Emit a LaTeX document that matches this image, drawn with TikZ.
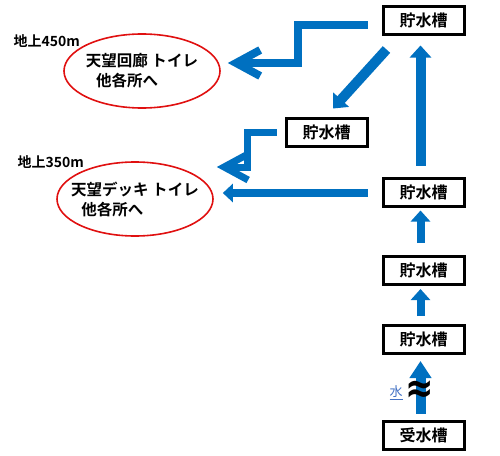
\documentclass[tikz,border=0pt]{standalone}
\usepackage{fontspec}
\setmainfont{Noto Sans CJK JP}[BoldFont={Noto Sans CJK JP Bold}]
\newfontfamily\waveface{DejaVu Sans}
\usetikzlibrary{arrows.meta,shapes.geometric,positioning,calc}
\definecolor{ink}{HTML}{000000}
\definecolor{water}{HTML}{0070C0}
\definecolor{rim}{HTML}{E01010}
\definecolor{note}{HTML}{4472C4}
\newcommand{\TankW}{81pt}
\newcommand{\TankH}{28pt}

\begin{document}
\begin{tikzpicture}[x=1pt, y=-1pt, ink,
  tank/.style={draw=ink, line width=3pt, minimum width=\TankW, minimum height=\TankH, inner sep=0pt, font=\fontsize{16}{18}\selectfont\bfseries},
  deck/.style={ellipse, draw=rim, line width=1.6pt, minimum width=156pt, minimum height=74pt, inner xsep=-30pt, inner ysep=-12pt, align=left, font=\fontsize{15.5}{20}\selectfont\bfseries},
  level/.style={anchor=west, font=\fontsize{14}{16}\selectfont\bfseries},
  pipe/.style={draw=water, line width=10pt, -{Triangle[width=21pt,length=12pt]}},
  thin pipe/.style={draw=water, line width=8pt, -{Triangle[width=19pt,length=11pt]}},
  elbow pipe/.style={draw=water, line width=8pt, -{Straight Barb[width=26pt,length=24pt]}}]
\useasboundingbox (0,0) rectangle (500,455);

% --- Tanks: the main column, then the one on the side ---------------------------
\node[tank] (top) at (423.5,20) {貯水槽};
\node[tank] (mid) at (326.5,132) {貯水槽};
\node[tank] (t350) at (423.5,192) {貯水槽};
\node[tank] (t3) at (423.5,270.5) {貯水槽};
\node[tank] (t4) at (423.5,339.5) {貯水槽};
\node[tank] (recv) at (423.5,435) {受水槽};

% --- Where the water goes -----------------------------------------------------
\node[deck] (e450) at (142,71) {天望回廊 トイレ\\\hspace*{0.65em}他各所へ};
\node[deck] (e350) at (135,199) {天望デッキ トイレ\\\hspace*{0.65em}他各所へ};
\node[level] (l450) at (10,41) {地上450m};
\node[level] (l350) at (14,162) {地上350m};

% --- Up the column ------------------------------------------------------------
\draw[pipe, -{Triangle[width=21pt,length=17pt]}, shorten <=6pt, shorten >=6pt] ([xshift=-3pt]recv.north) -- ([xshift=-3pt]t4.south);
\draw[thin pipe, shorten <=8pt, shorten >=3pt] ([xshift=-3pt]t4.north) -- ([xshift=-3pt]t3.south);
\draw[thin pipe, shorten <=12pt, shorten >=3pt] ([xshift=-3pt]t3.north) -- ([xshift=-3pt]t350.south);
\draw[pipe, shorten <=11pt, shorten >=10pt] ([xshift=-3pt]t350.north) -- ([xshift=-3pt]top.south);
\node[font=\fontsize{13}{15}\selectfont, text=note] (src) at (396,393) {\underline{水}};
\node[font=\waveface\fontsize{20}{20}\selectfont\bfseries, inner sep=0pt] (wave) at (420,392) {\scalebox{1.7}[2.1]{≈}};

% --- Out to the floors --------------------------------------------------------
\draw[pipe] ([shift={(5,14)}]top.south west) -- ([shift={(6.5,-8)}]mid.north);
\draw[elbow pipe] ([shift={(-14,5)}]top.west) -| ($(e450.east)+(77,-8)$) -- ($(e450.east)+(7,-8)$);
\draw[elbow pipe, line width=7pt] ([xshift=-8pt]mid.west) -| ($(e350.east)+(34,-32)$) -- ($(e350.east)+(3,-32)$);
\draw[thin pipe, -{Triangle[width=18pt,length=10pt]}] ([shift={(-14,1)}]t350.west) -- ($(e350.east |- t350.west)+(9,1)$);

\end{tikzpicture}
\end{document}
